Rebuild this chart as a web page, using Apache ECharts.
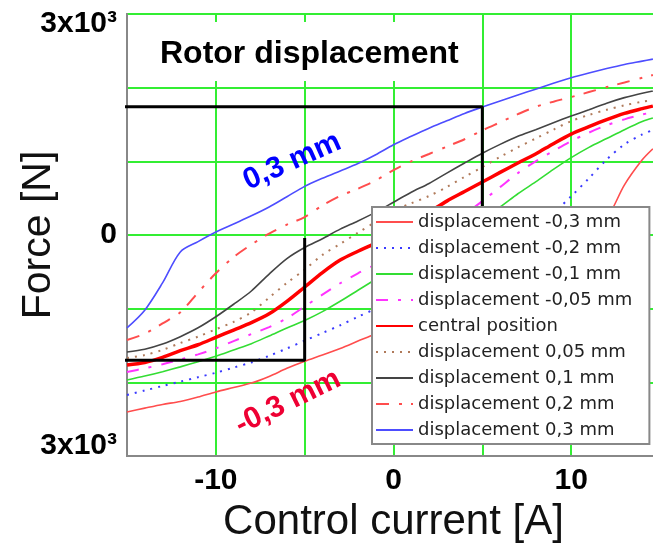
<!DOCTYPE html>
<html><head><meta charset="utf-8">
<script src="https://cdn.jsdelivr.net/npm/echarts@6/dist/echarts.min.js"></script>
<style>html,body{margin:0;padding:0;background:#fff}#c{width:653px;height:551px}</style>
</head><body><div id="c"></div>
<script>
// Control current [A]
const current = [-15,-14,-13,-12,-11,-10,-9,-8,-7,-6,-5,-4,-3,-2,-1,0,1,2,3,4,5,6,7,8,9,10,11,12,13,14,14.6];
// Force [N] per rotor displacement
const dispM03  = [-2402,-2350,-2300,-2260,-2200,-2130,-2070,-2010,-1920,-1810,-1715,-1630,-1540,-1440,-1340,-1230,-1080,-970,-880,-800,-660,-520,-380,-260,-150,-40,90,230,680,1020,1170];
const dispM02  = [-2171,-2110,-2050,-1990,-1930,-1870,-1800,-1730,-1640,-1540,-1435,-1330,-1225,-1110,-1000,-880,-740,-630,-530,-400,-250,-140,-20,130,300,525,770,1025,1230,1365,1425];
const dispM01  = [-1968,-1915,-1855,-1790,-1720,-1645,-1560,-1475,-1370,-1262,-1160,-1040,-900,-750,-600,-450,-310,-190,-70,70,220,380,560,720,890,1050,1190,1310,1430,1540,1588];
const dispM005 = [-1859,-1810,-1755,-1690,-1620,-1540,-1440,-1345,-1250,-1130,-970,-810,-655,-520,-400,-280,-150,-20,120,280,460,650,840,1000,1140,1275,1390,1490,1570,1635,1669];
const central  = [-1764,-1730,-1660,-1570,-1490,-1390,-1290,-1190,-1070,-900,-706,-510,-340,-220,-110,30,170,310,460,590,719,850,977,1100,1240,1370,1470,1565,1650,1715,1750];
const disp005  = [-1670,-1630,-1560,-1466,-1380,-1280,-1180,-1050,-850,-650,-470,-270,-120,30,180,330,430,530,651,790,923,1060,1190,1310,1430,1547,1630,1700,1760,1810,1832];
const disp01   = [-1588,-1550,-1480,-1380,-1260,-1110,-940,-760,-530,-320,-170,-50,80,190,310,445,580,700,840,977,1110,1230,1340,1430,1525,1615,1700,1790,1865,1925,1954];
const disp02   = [-1425,-1340,-1200,-1050,-780,-520,-300,-130,20,140,244,400,530,630,740,880,1000,1100,1200,1300,1420,1530,1640,1740,1810,1873,1940,2008,2070,2135,2171];
const disp03   = [-1260,-1020,-650,-230,-90,40,150,260,380,520,660,770,870,970,1090,1225,1340,1450,1550,1650,1737,1820,1900,1980,2060,2135,2200,2260,2315,2360,2388];
const seriesNames = ['displacement -0,3 mm','displacement -0,2 mm','displacement -0,1 mm','displacement -0,05 mm','central position','displacement 0,05 mm','displacement 0,1 mm','displacement 0,2 mm','displacement 0,3 mm'];
// marker lines (current, force)
const markUpperI = [-16, 5, 5];
const markUpperF = [1740, 1740, 0];
const markLowerI = [-16, -5, -5];
const markLowerF = [-1700, -1700, -40];
// annotation anchors
const annoText = ['0,3 mm', '-0,3 mm'];
const annoI = [-5.7, -5.94];
const annoF = [1000, -2270];
const yTickLabels = {'3000':'3x10³','0':'0','-3000':'3x10³'};
const xTickLabels = {'-10':'-10','0':'0','10':'10'};

const FF = '"Liberation Sans", Arial, sans-serif';
const pts = arr => current.map((c,i)=>[c,arr[i]]);
const styles = [
  {color:'#ff4d4d', width:1.6, type:'solid'},
  {color:'#3a3aff', width:2, type:[2,6]},
  {color:'#33dd33', width:1.6, type:'solid'},
  {color:'#ff33ff', width:2, type:[12,10,3,10]},
  {color:'#ff0000', width:3.5, type:'solid'},
  {color:'#b07a5a', width:2, type:[2,6]},
  {color:'#444444', width:1.6, type:'solid'},
  {color:'#ff4d4d', width:2, type:[13,10,3,9]},
  {color:'#4d4dff', width:1.6, type:'solid'}
];
const dataSets = [dispM03, dispM02, dispM01, dispM005, central, disp005, disp01, disp02, disp03];
const series = dataSets.map((d,i)=>({
  name: seriesNames[i], type:'line', data: pts(d), symbol:'none', smooth:0.3,
  lineStyle:{color:styles[i].color, width:styles[i].width, type:styles[i].type},
  itemStyle:{color:styles[i].color}, z: 3
}));
series.push({type:'line', data: markUpperI.map((c,i)=>[c,markUpperF[i]]), symbol:'none', clip:false, silent:true,
  lineStyle:{color:'#000', width:3}, z:4});
series.push({type:'line', data: markLowerI.map((c,i)=>[c,markLowerF[i]]), symbol:'none', clip:false, silent:true,
  lineStyle:{color:'#000', width:3}, z:4});
const annoColors = ['#0000ff', '#ee0033'];
const annoRot = [24, 26];
annoText.forEach((t,i)=>{
  series.push({type:'scatter', data:[[annoI[i], annoF[i]]], symbolSize:2, silent:true, z:5,
    itemStyle:{color:'rgba(0,0,0,0)'},
    labelLayout:{hideOverlap:false},
    label:{show:true, position:'inside', formatter:t, rotate:annoRot[i], color:annoColors[i],
      textBorderWidth:0, opacity:1,
      fontSize:30, fontWeight:'bold', fontFamily:FF}});
});

const chart = echarts.init(document.getElementById('c'), null, {renderer:'canvas'});
chart.setOption({
  animation:false,
  backgroundColor:'#fff',
  title:{text:'Rotor displacement', left:135, top:22, padding:[16,12,11,25], backgroundColor:'#fff',
    textStyle:{fontSize:32, fontWeight:'bold', color:'#000', fontFamily:FF}, z:6},
  grid:{left:127, top:14, width:533, height:442, containLabel:false, outerBoundsMode:'none',
    show:true, borderColor:'#888', borderWidth:2, backgroundColor:'transparent'},
  legend:{data:seriesNames, orient:'vertical', left:372, top:207, itemWidth:37, itemHeight:18, itemGap:8,
    padding:[6,17,5,3], backgroundColor:'#fff', borderColor:'#888', borderWidth:2, borderRadius:0,
    itemStyle:{color:'rgba(0,0,0,0)', borderColor:'rgba(0,0,0,0)', borderWidth:0},
    textStyle:{fontFamily:'"DejaVu Sans", sans-serif', fontSize:18, color:'#222'}, z:6},
  xAxis:{type:'value', min:-15, max:15, interval:5,
    axisLine:{show:true, onZero:false, lineStyle:{color:'#888', width:2}},
    axisTick:{show:false},
    splitLine:{show:true, lineStyle:{color:'#33ee33', width:2}},
    axisLabel:{margin:10, fontSize:30, fontWeight:'bold', color:'#000', fontFamily:FF,
      formatter:v=> xTickLabels[String(v)] || ''},
    name:'Control current [A]', nameLocation:'middle', nameGap:45,
    nameTextStyle:{fontSize:42, color:'#111', fontFamily:FF}},
  yAxis:{type:'value', min:-3000, max:3000, interval:1000,
    axisLine:{show:true, onZero:false, lineStyle:{color:'#888', width:2}},
    axisTick:{show:false},
    splitLine:{show:true, lineStyle:{color:'#33ee33', width:2}},
    axisLabel:{margin:10, fontSize:30, fontWeight:'bold', color:'#000', fontFamily:FF,
      formatter:v=>{
        const s = yTickLabels[String(v)];
        if (!s) return '';
        if (v>0) return '{t|'+s+'}';
        if (v<0) return '{b|'+s+'}';
        return s;
      },
      rich:{
        t:{fontSize:30, fontWeight:'bold', color:'#000', fontFamily:FF, padding:[20,0,0,0]},
        b:{fontSize:30, fontWeight:'bold', color:'#000', fontFamily:FF, padding:[0,0,20,0]}
      }},
    name:'Force [N]', nameLocation:'middle', nameGap:68, nameMoveOverlap:false,
    nameTextStyle:{fontSize:41, color:'#111', fontFamily:FF}},
  series: series
});
</script></body></html>
